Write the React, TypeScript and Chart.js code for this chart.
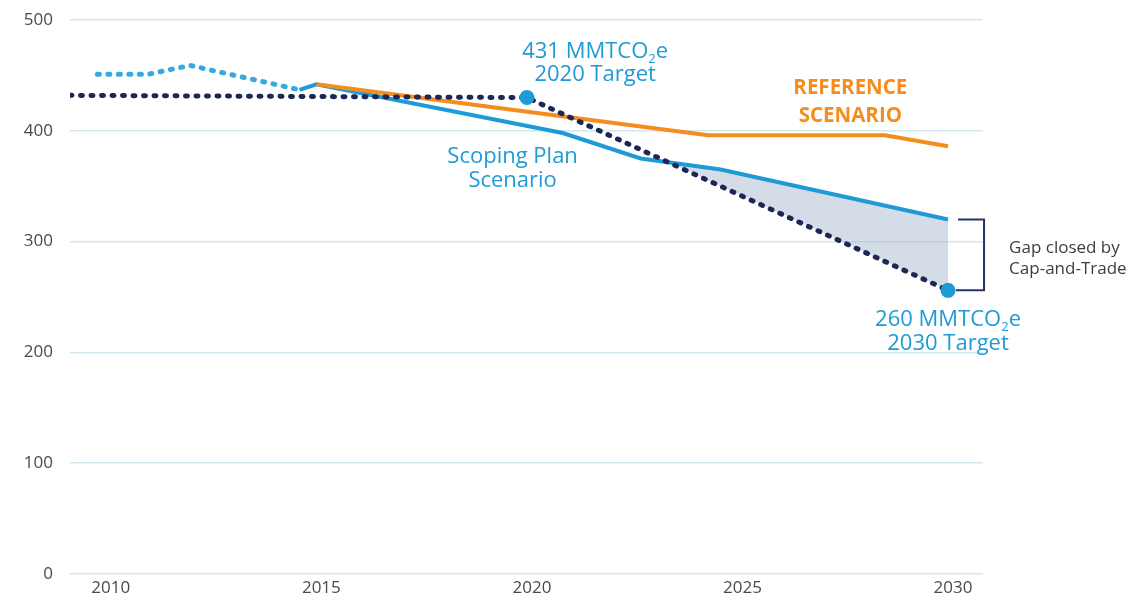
import React, { useEffect, useRef } from "react";
import { Chart, registerables } from "chart.js";

Chart.register(...registerables);

// ---- axis / ticks ----
const X_MIN = 2009.15;
const X_MAX = 2030.83;
const xTickYears = [2010, 2015, 2020, 2025, 2030];
const yTickValues = [0, 100, 200, 300, 400, 500];

// ---- series ----
const historicalYears = [2009.8, 2011, 2012, 2014.6];
const historicalValues = [451, 451, 459, 437];

const scopingYears = [2014.6, 2015, 2020.85, 2022.7, 2024.6, 2030];
const scopingValues = [437, 442, 398, 375, 365, 320];

const referenceYears = [2015, 2024.3, 2028.5, 2030];
const referenceValues = [442, 396, 396, 386];

const targetYears = [2009.15, 2020, 2030];
const targetValues = [432, 430, 256];

const gapFromYear = 2022;

// ---- styles ----
const BLUE = "#1e9ad6";
const LIGHT_BLUE = "#35a9e0";
const ORANGE = "#f58d1e";
const NAVY = "#1c2657";
const GRID = "#d3e7ee";
const TICK = "#4a4a4a";
const FONT = "'Open Sans', 'Noto Sans', sans-serif";

const ANNOTATIONS = [
  { x: 2021.62, y: 466, lines: ["431 MMTCO₂e", "2020 Target"], lh: 23.5, size: 22, weight: 400, color: BLUE, align: "center" },
  { x: 2030, y: 224.1, lines: ["260 MMTCO₂e", "2030 Target"], lh: 24.5, size: 22, weight: 400, color: BLUE, align: "center" },
  { x: 2019.66, y: 370.9, lines: ["Scoping Plan", "Scenario"], lh: 24, size: 22, weight: 400, color: BLUE, align: "center" },
  { x: 2027.68, y: 433, lines: ["REFERENCE", "SCENARIO"], lh: 27.4, size: 20.5, weight: 700, color: ORANGE, align: "center" },
  { x: 2031.45, y: 289.7, lines: ["Gap closed by", "Cap-and-Trade"], lh: 21, size: 17, weight: 400, color: "#3d3d3d", align: "left" },
];

function drawRich(ctx: CanvasRenderingContext2D, text: string, x: number, y: number, a: any) {
  const main = `${a.weight} ${a.size}px ${FONT}`;
  const sub = `${a.weight} ${Math.round(a.size * 0.6)}px ${FONT}`;
  const parts: { t: string; s: boolean }[] = [];
  for (const ch of text) {
    const isSub = ch === "₂";
    const t = isSub ? "2" : ch;
    const last = parts[parts.length - 1];
    if (last && last.s === isSub) last.t += t;
    else parts.push({ t, s: isSub });
  }
  let w = 0;
  for (const p of parts) {
    ctx.font = p.s ? sub : main;
    w += ctx.measureText(p.t).width;
  }
  let cx = a.align === "center" ? x - w / 2 : x;
  ctx.textAlign = "left";
  ctx.textBaseline = "alphabetic";
  ctx.fillStyle = a.color;
  for (const p of parts) {
    ctx.font = p.s ? sub : main;
    ctx.fillText(p.t, cx, p.s ? y + a.size * 0.22 : y);
    cx += ctx.measureText(p.t).width;
  }
}

const annotationPlugin = {
  id: "annotations",
  afterDraw(chart: any) {
    const { ctx, scales } = chart;
    const xs = scales.x;
    const ys = scales.y;
    ctx.save();
    for (const a of ANNOTATIONS) {
      const px = xs.getPixelForValue(a.x);
      const py = ys.getPixelForValue(a.y);
      a.lines.forEach((line, i) => drawRich(ctx, line, px, py + i * a.lh, a));
    }
    // bracket
    const bx = xs.getPixelForValue(scopingYears[scopingYears.length - 1]);
    const top = ys.getPixelForValue(scopingValues[scopingValues.length - 1]);
    const bottom = ys.getPixelForValue(targetValues[targetValues.length - 1]);
    ctx.strokeStyle = "#26306a";
    ctx.lineWidth = 2;
    ctx.beginPath();
    ctx.moveTo(bx + 10, top);
    ctx.lineTo(bx + 36, top);
    ctx.lineTo(bx + 36, bottom);
    ctx.lineTo(bx + 8, bottom);
    ctx.stroke();
    ctx.restore();
  },
};

const pts = (xs: number[], ys: number[]) => xs.map((x, i) => ({ x, y: ys[i] }));

export default function App() {
  const ref = useRef<HTMLCanvasElement>(null);

  useEffect(() => {
    if (!ref.current) return;
    const gapPts = pts(scopingYears, scopingValues).filter((p) => p.x >= gapFromYear);
    const chart = new Chart(ref.current, {
      type: "line",
      data: {
        datasets: [
          {
            label: "Target",
            data: pts(targetYears, targetValues),
            borderColor: NAVY,
            borderWidth: 5,
            borderDash: [2, 8.5],
            borderCapStyle: "round",
            pointRadius: [0, 7.5, 7.5],
            pointBackgroundColor: BLUE,
            pointBorderWidth: 0,
            fill: false,
            tension: 0,
          },
          {
            label: "Reference Scenario",
            data: pts(referenceYears, referenceValues),
            borderColor: ORANGE,
            borderWidth: 4,
            pointRadius: 0,
            fill: false,
            tension: 0,
          },
          {
            label: "Scoping Plan Scenario",
            data: pts(scopingYears, scopingValues),
            borderColor: BLUE,
            borderWidth: 4,
            pointRadius: 0,
            fill: false,
            tension: 0,
          },
          {
            label: "Historical",
            data: pts(historicalYears, historicalValues),
            borderColor: LIGHT_BLUE,
            borderWidth: 5,
            borderDash: [2, 8.5],
            borderCapStyle: "round",
            pointRadius: 0,
            fill: false,
            tension: 0,
          },
          {
            label: "Gap",
            data: gapPts,
            borderWidth: 0,
            borderColor: "rgba(0,0,0,0)",
            pointRadius: 0,
            fill: { target: 0, above: "rgba(160,178,205,0.45)", below: "rgba(0,0,0,0)" },
            tension: 0,
          },
        ],
      } as any,
      options: {
        responsive: false,
        maintainAspectRatio: false,
        animation: false,
        layout: { padding: { left: 0, right: 144, top: 20, bottom: 0 } },
        plugins: { legend: { display: false }, tooltip: { enabled: false } },
        scales: {
          x: {
            type: "linear",
            min: X_MIN,
            max: X_MAX,
            afterBuildTicks: (s: any) => {
              s.ticks = xTickYears.map((v) => ({ value: v }));
            },
            afterFit: (s: any) => {
              s.height = 25;
              s.paddingLeft = 0;
              s.paddingRight = 0;
            },
            ticks: {
              callback: (v: any) => String(v),
              color: TICK,
              font: { family: FONT, size: 17 },
              padding: 4,
              labelOffset: 5,
              maxRotation: 0,
              autoSkip: false,
            },
            grid: { display: false, drawTicks: false },
            border: { display: false },
          },
          y: {
            type: "linear",
            min: 0,
            max: 500,
            afterBuildTicks: (s: any) => {
              s.ticks = yTickValues.map((v) => ({ value: v }));
            },
            afterFit: (s: any) => {
              s.width = 70;
              s.paddingTop = 0;
              s.paddingBottom = 0;
            },
            ticks: {
              color: TICK,
              font: { family: FONT, size: 17 },
              padding: 17,
            },
            grid: { color: GRID, lineWidth: 1.5, drawTicks: false },
            border: { display: false },
          },
        },
      } as any,
      plugins: [annotationPlugin],
    });
    return () => chart.destroy();
  }, []);

  return (
    <div style={{ position: "fixed", left: 0, top: 0, width: 1127, height: 599, background: "#fff" }}>
      <canvas ref={ref} width={1127} height={599} />
    </div>
  );
}
